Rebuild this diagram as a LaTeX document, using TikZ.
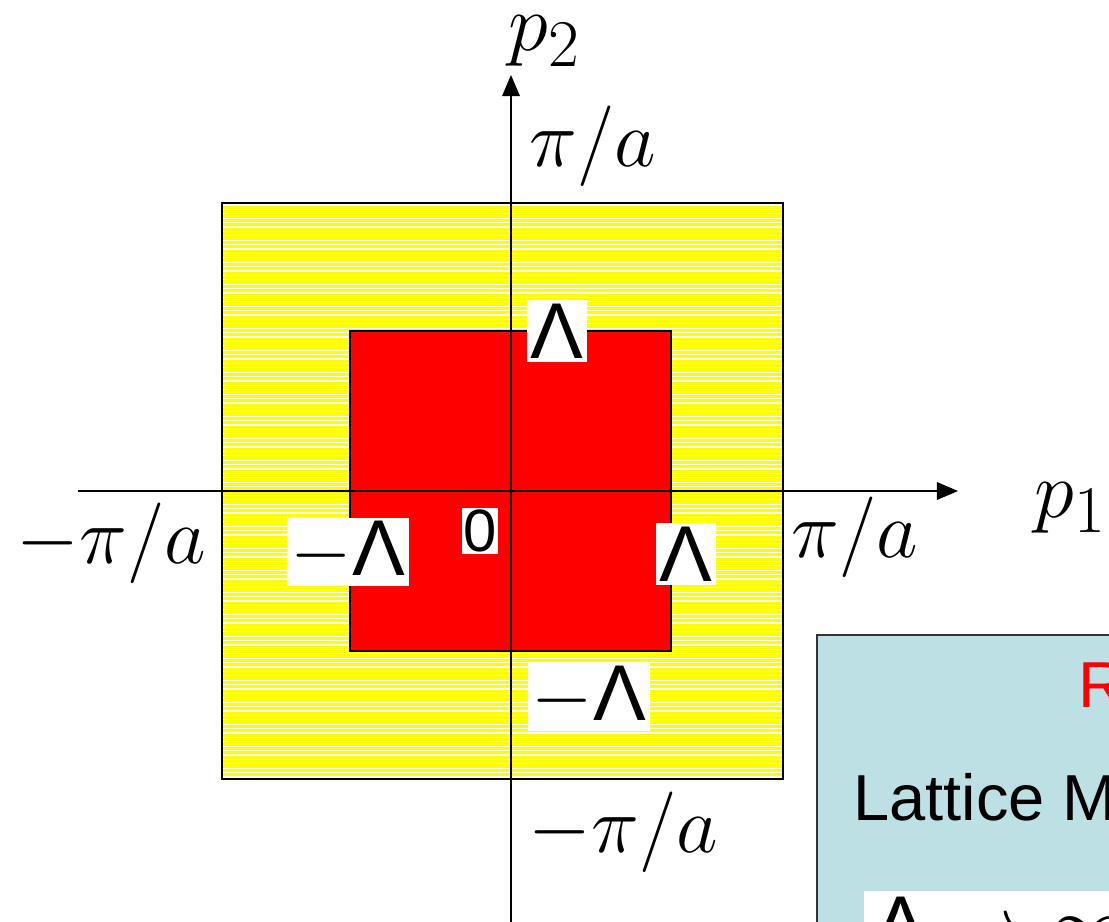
\RequirePackage{fix-cm}
\documentclass[tikz,border=0pt]{standalone}
\usepackage{amsmath}
\usepackage{fontspec}
\setsansfont{Liberation Sans}
\usetikzlibrary{arrows.meta}
\definecolor{Zone}{HTML}{FFFF00}
\definecolor{Core}{HTML}{FF0000}
\definecolor{Note}{HTML}{BCE0E3}
\definecolor{Remark}{HTML}{FF0000}
\DeclareMathSizes{46}{46}{38}{30}

\begin{document}
\begin{tikzpicture}[x=0.02cm,y=-0.02cm,>={Triangle[length=12pt,width=10pt]},
  axis/.style={->,line width=1pt,draw=black},
  mlabel/.style={font=\fontsize{46}{52}\selectfont,inner sep=0pt},
  cutoff/.style={fill=white,font=\sffamily\fontsize{45}{50}\selectfont,inner sep=2pt},
  hatch/.style={white,line width=0.6pt}]
\useasboundingbox (0,0) rectangle (1109,922);
% Brillouin zone, hatched
\fill[Zone] (222,203) rectangle (783,779);
\foreach \y in {205,209.4,...,778}
  \draw[hatch] (223,\y) -- (782,\y);
\draw[line width=0.8pt] (222,203) rectangle (783,779);
% cutoff region
\filldraw[fill=Core,draw=black,line width=0.8pt] (350,331) rectangle (671,651);
% axes
\coordinate (xstart) at (78,491);
\coordinate (xend) at (958,491);
\coordinate (ystart) at (511,930);
\coordinate (yend) at (511,75);
\draw[axis] (xstart) -- (xend);
\draw[axis] (ystart) -- (yend);
\node[mlabel,anchor=base west] (ptwo) at (508,51) {$p_2$};
\node[mlabel,anchor=base west] (pone) at (1034,517) {$p_1$};
\node[mlabel] (pitop) at (593,146) {$\pi/a$};
\node[mlabel] (piright) at (855,537) {$\pi/a$};
\node[mlabel] (pileft) at (111,543) {$-\pi/a$};
\node[mlabel] (pibot) at (623,832) {$-\pi/a$};
% cutoff labels
\node[cutoff] (lamtop) at (557,331) {Λ};
\node[cutoff] (lamleft) at (348,552) {$-$Λ};
\node[cutoff] (lamright) at (686,554) {Λ};
\node[cutoff] (lambot) at (589,697) {$-$Λ};
\node[fill=white,font=\sffamily\fontsize{34}{40}\selectfont,inner sep=1pt] (zero) at (480,531) {0};
% note box
\filldraw[fill=Note,draw=black!80,line width=0.8pt] (817,635) rectangle (1130,940);
\node[anchor=base west,inner sep=0pt,text=Remark,font=\sffamily\fontsize{37}{44}\selectfont] (remark) at (1078,707) {R};
\node[anchor=base west,inner sep=0pt,font=\sffamily\fontsize{37}{44}\selectfont] (lattice) at (853,820) {Lattice M};
\node[anchor=north west,fill=white,inner xsep=6pt,inner ysep=3pt,font=\sffamily\fontsize{45}{50}\selectfont] (limit) at (864,891) {Λ $\to\infty$};
\end{tikzpicture}
\end{document}
